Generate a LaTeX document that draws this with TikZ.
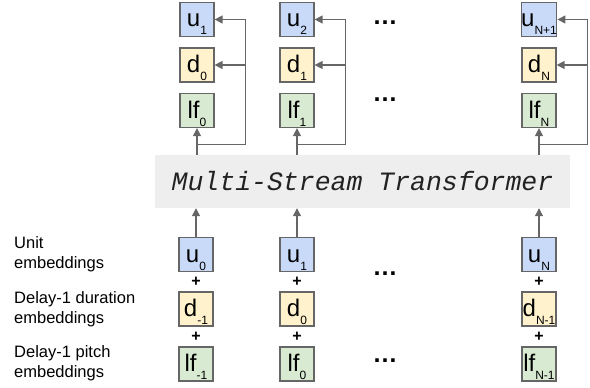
\documentclass[tikz,border=0pt]{standalone}
\usepackage{fontspec}
\setmainfont{Liberation Sans}
\newfontfamily\trfont{Liberation Mono}
\usetikzlibrary{arrows.meta,calc}
\definecolor{ublue}{HTML}{C9DAF8}
\definecolor{dyellow}{HTML}{FFF2CC}
\definecolor{lgreen}{HTML}{D9EAD3}
\definecolor{edgegray}{HTML}{666666}
\definecolor{trfill}{HTML}{EEEEEE}
\definecolor{trtext}{HTML}{222222}
\newcommand{\tok}[2]{\fontsize{24}{24}\selectfont #1\raisebox{-8pt}{\fontsize{12}{12}\selectfont #2}}
\begin{document}
\begin{tikzpicture}[x=1pt,y=-1pt,
  tokbox/.style={draw=edgegray,line width=1.2pt,inner sep=0pt,minimum width=34pt,text height=24.5pt,text depth=9.5pt},
  ubox/.style={tokbox,fill=ublue},
  dbox/.style={tokbox,fill=dyellow},
  lbox/.style={tokbox,fill=lgreen},
  conn/.style={draw=edgegray,line width=1.3pt},
  arr/.style={conn,-{Triangle[length=8pt,width=8pt]}},
  sidelabel/.style={anchor=base west,align=left,inner sep=0pt,font=\fontsize{16.5}{20}\selectfont},
  plussign/.style={inner sep=0pt,font=\fontsize{16}{16}\selectfont\bfseries},
  dotsnode/.style={anchor=base,inner sep=0pt,font=\fontsize{25}{25}\selectfont\bfseries}]
\useasboundingbox (0,0) rectangle (590,388);

% transformer
\node[fill=trfill,minimum width=415pt,minimum height=53pt,inner sep=0pt,
      font=\fontsize{26.5}{26.5}\selectfont\trfont\itshape,text=trtext] (T) at (362.5,181.5) {Multi-Stream Transformer};

% top outputs
\node[ubox] (ua) at (197,19.5) {\tok{u}{1}};
\node[dbox] (da) at (197,65) {\tok{d}{0}};
\node[lbox] (la) at (197,110.5) {\tok{lf}{0}};
\node[ubox] (ub) at (297,19.5) {\tok{u}{2}};
\node[dbox] (db) at (297,65) {\tok{d}{1}};
\node[lbox] (lb) at (297,110.5) {\tok{lf}{1}};
\node[ubox] (uc) at (539,19.5) {\tok{u}{N+1}};
\node[dbox] (dc) at (539,65) {\tok{d}{N}};
\node[lbox] (lc) at (539,110.5) {\tok{lf}{N}};

\node[dotsnode] (dotsA) at (385,24) {…};
\node[dotsnode] (dotsB) at (385,101) {…};

% feedback loops
\foreach \c in {a,b,c}{
  \coordinate (j\c) at ($(l\c |- T.north)+(0,-10)$);
  \coordinate (r\c) at ($(j\c)+(48.5,0)$);
  \draw[arr] (l\c |- T.north) -- (l\c.south);
  \draw[conn] (j\c) -- (r\c) -- (r\c |- u\c.east);
  \draw[arr] (r\c |- u\c.east) -- (u\c.east);
  \draw[arr] (r\c |- d\c.east) -- (d\c.east);
}

% bottom inputs
\node[ubox] (ua0) at (196,254.5) {\tok{u}{0}};
\node[dbox] (da0) at (196,309) {\tok{d}{-1}};
\node[lbox] (la0) at (196,364) {\tok{lf}{-1}};
\node[ubox] (ub0) at (297,254.5) {\tok{u}{1}};
\node[dbox] (db0) at (297,309) {\tok{d}{0}};
\node[lbox] (lb0) at (297,364) {\tok{lf}{0}};
\node[ubox] (uc0) at (539,254.5) {\tok{u}{N}};
\node[dbox] (dc0) at (539,309) {\tok{d}{N-1}};
\node[lbox] (lc0) at (539,364) {\tok{lf}{N-1}};

\foreach \c in {a,b,c}{
  \draw[arr] (u\c0.north) -- (u\c0 |- T.south);
  \node[plussign] (p\c1) at ($(u\c0.south)!0.5!(d\c0.north)$) {+};
  \node[plussign] (p\c2) at ($(d\c0.south)!0.5!(l\c0.north)$) {+};
}

\node[dotsnode] (dotsC) at (385,275) {…};
\node[dotsnode] (dotsD) at (385,362) {…};

% side labels
\node[sidelabel] (lab1) at (14,268) {Unit\\embeddings};
\node[sidelabel] (lab2) at (14,323) {Delay-1 duration\\embeddings};
\node[sidelabel] (lab3) at (14,377) {Delay-1 pitch\\embeddings};
\end{tikzpicture}
\end{document}
